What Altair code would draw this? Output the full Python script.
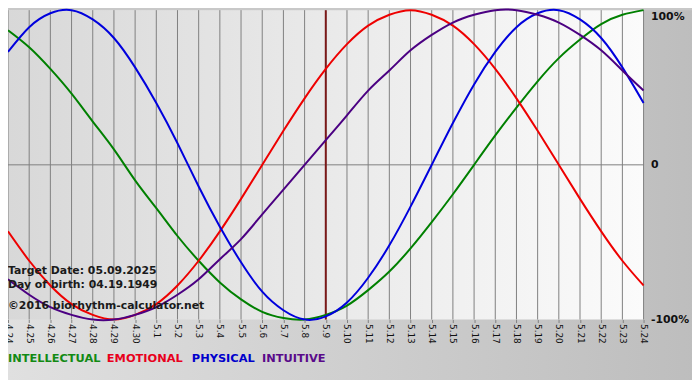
import altair as alt
import pandas as pd

# ---- data ----
dates = ["4.24", "4.25", "4.26", "4.27", "4.28", "4.29", "4.30",
         "5.1", "5.2", "5.3", "5.4", "5.5", "5.6", "5.7", "5.8", "5.9",
         "5.10", "5.11", "5.12", "5.13", "5.14", "5.15", "5.16", "5.17",
         "5.18", "5.19", "5.20", "5.21", "5.22", "5.23", "5.24"]

intellectual = [0.87, 0.76, 0.62, 0.46, 0.28, 0.10, -0.10, -0.28, -0.46, -0.62,
                -0.76, -0.87, -0.95, -0.99, -1.00, -0.97, -0.91, -0.81, -0.69, -0.54,
                -0.37, -0.19, 0.00, 0.19, 0.37, 0.54, 0.69, 0.81, 0.91, 0.97, 1.00]
emotional = [-0.43, -0.62, -0.78, -0.90, -0.97, -1.00, -0.97, -0.90, -0.78, -0.62,
             -0.43, -0.22, 0.00, 0.22, 0.43, 0.62, 0.78, 0.90, 0.97, 1.00,
             0.97, 0.90, 0.78, 0.62, 0.43, 0.22, 0.00, -0.22, -0.43, -0.62, -0.78]
physical = [0.73, 0.89, 0.98, 1.00, 0.94, 0.82, 0.63, 0.40, 0.14, -0.14,
            -0.40, -0.63, -0.82, -0.94, -1.00, -0.98, -0.89, -0.73, -0.52, -0.27,
            0.00, 0.27, 0.52, 0.73, 0.89, 0.98, 1.00, 0.94, 0.82, 0.63, 0.40]
intuitive = [-0.74, -0.84, -0.92, -0.97, -1.00, -1.00, -0.97, -0.92, -0.84, -0.74,
             -0.61, -0.48, -0.32, -0.16, 0.00, 0.16, 0.32, 0.48, 0.61, 0.74,
             0.84, 0.92, 0.97, 1.00, 1.00, 0.97, 0.92, 0.84, 0.74, 0.61, 0.48]

series_names = ["INTELLECTUAL", "EMOTIONAL", "PHYSICAL", "INTUITIVE"]
series_colors = ["#008000", "#ee0000", "#0000dd", "#4b0082"]
legend_colors = ["#138a13", "#e8001c", "#0000cc", "#5a0a8a"]

y_values = [-1, 0, 1]
y_labels = ["-100%", "0", "100%"]

target_date = "5.9"
info_lines = ["Target Date: 05.09.2025", "Day of birth: 04.19.1949",
              "\u00a92016 biorhythm-calculator.net"]

# ---- build tables ----
rows = []
for name, vals in zip(series_names, [intellectual, emotional, physical, intuitive]):
    for i, (d, v) in enumerate(zip(dates, vals)):
        rows.append({"day": i, "date": d, "series": name, "value": v})
df = pd.DataFrame(rows)
days_df = pd.DataFrame({"date": dates})
one = pd.DataFrame({"k": [0]})

W, H = 643, 313
FONT = "DejaVu Sans"

y_label_expr = " : ".join("datum.value == %d ? '%s'" % (v, l) for v, l in zip(y_values, y_labels)) + " : ''"

x_scale = alt.Scale(type="point", domain=dates, padding=0)
y_scale = alt.Scale(domain=[-1, 1], nice=False, zero=False)

x_axis = alt.Axis(labelAngle=90, labelAlign="left", labelBaseline="middle",
                  labelOverlap=False, labelBound=False, labelFlush=False,
                  grid=False, domain=False, ticks=True, tickSize=3, tickColor="#808080",
                  labelPadding=1, labelFont=FONT, labelFontSize=9,
                  labelColor="#111111", title=None, zindex=1)
y_axis = alt.Axis(orient="right", values=y_values, labelExpr=y_label_expr,
                  labelFlush=False, labelOverlap=False, grid=False,
                  domain=False, ticks=False, labelPadding=7,
                  labelFont=FONT, labelFontSize=11, labelFontWeight="bold",
                  labelColor="#111111", labelAlign="left",
                  labelBaseline={"condition": {"test": "datum.value == 1", "value": "top"},
                                 "value": "middle"},
                  title=None, zindex=1)

x_enc = alt.X("date:O", scale=x_scale, axis=x_axis, sort=dates)

grad_outer = alt.Gradient(gradient="linear", x1=0, y1=0, x2=1, y2=0,
                          stops=[alt.GradientStop(offset=0, color="#e0e0e0"),
                                 alt.GradientStop(offset=1, color="#bdbdbd")])
grad_plot = alt.Gradient(gradient="linear", x1=0, y1=0, x2=1, y2=0,
                         stops=[alt.GradientStop(offset=0, color="#d8d8d8"),
                                alt.GradientStop(offset=1, color="#fbfbfb")])

outer_bg = alt.Chart(one).mark_rect(fill=grad_outer).encode(
    x=alt.value(0), x2=alt.value(W + 60), y=alt.value(0), y2=alt.value(H + 70))
plot_bg = alt.Chart(one).mark_rect(fill=grad_plot).encode(
    x=alt.value(0), x2=alt.value(W), y=alt.value(0), y2=alt.value(H))

grid = alt.Chart(days_df).mark_rule(color="#808080", strokeWidth=1).encode(x=x_enc)

zero_rule = alt.Chart(one).mark_rule(color="#808080", strokeWidth=1).encode(
    y=alt.datum(0, scale=y_scale))

target_rule = alt.Chart(one).mark_rule(color="#7a1818", strokeWidth=2).encode(
    x=alt.datum(target_date, scale=x_scale))

lines = alt.Chart(df).mark_line(strokeWidth=2, interpolate="natural").encode(
    x=x_enc,
    y=alt.Y("value:Q", scale=y_scale, axis=y_axis),
    color=alt.Color("series:N", scale=alt.Scale(domain=series_names, range=series_colors),
                    legend=None),
    order=alt.Order("day:Q"),
    detail="series:N",
)

info_marks = []
for txt, yy in zip(info_lines, [264, 278, 299]):
    info_marks.append(alt.Chart(one).mark_text(
        text=txt, font=FONT, fontSize=11, fontWeight="bold", color="#1a1a1a",
        align="left", baseline="middle").encode(x=alt.value(0), y=alt.value(yy)))

legend_marks = []
for name, col, xx in zip(series_names, legend_colors, [0, 100, 186, 257]):
    legend_marks.append(alt.Chart(one).mark_text(
        text=name, font=FONT, fontSize=11.5, fontWeight="bold", color=col,
        align="left", baseline="middle").encode(x=alt.value(xx), y=alt.value(353)))

chart = alt.layer(outer_bg, plot_bg, grid, zero_rule, target_rule, lines,
                  *info_marks, *legend_marks).properties(
    width=W, height=H,
    autosize=alt.AutoSizeParams(type="none"),
    padding={"left": 0, "top": 0, "right": 49, "bottom": 59},
    background="#c8c8c8",
).configure_view(stroke=None)

chart.save("out.html", embed_options={"renderer": "svg", "actions": False})
